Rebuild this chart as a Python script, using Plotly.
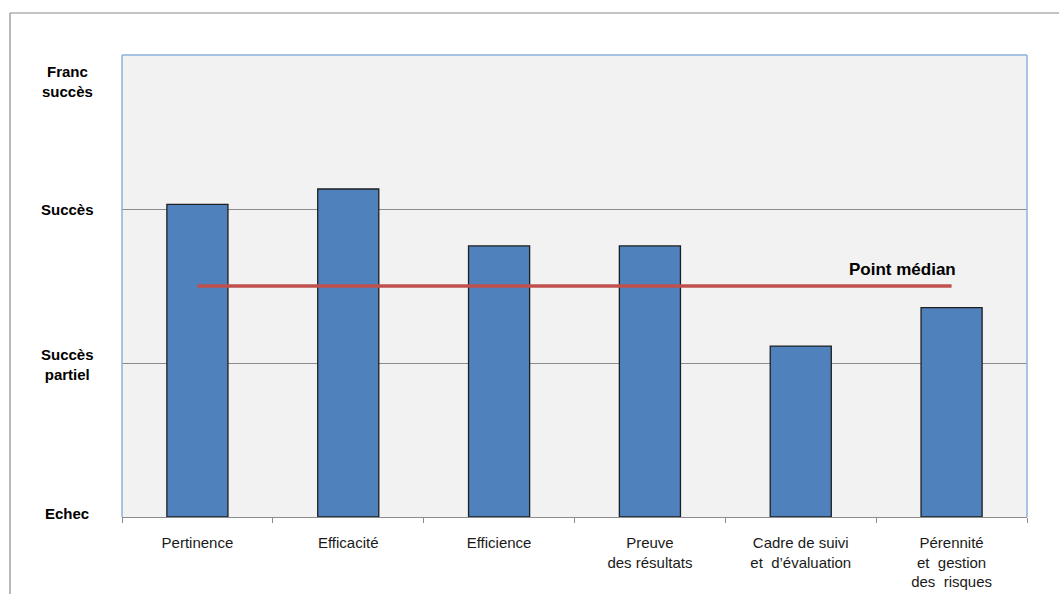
import plotly.graph_objects as go

# Critères d'évaluation et notes (0 = Echec ... 3 = Franc succès)
criteres = [
    "Pertinence",
    "Efficacité",
    "Efficience",
    "Preuve<br>des résultats",
    "Cadre de suivi<br>et  d’évaluation",
    "Pérennité<br>et  gestion<br>des  risques",
]
notes = [2.03, 2.13, 1.76, 1.76, 1.11, 1.36]
mediane = [1.5, 1.5, 1.5, 1.5, 1.5, 1.5]

niveaux = ["Echec", "Succès<br>partiel", "Succès", "Franc<br>succès"]
niveaux_val = [0, 1, 2, 3]

W, H = 1059, 594
ML, MR, MT, MB = 122, 32, 55, 77
PW, PH = W - ML - MR, H - MT - MB

FONT = "Arial, Liberation Sans, sans-serif"

fig = go.Figure()

fig.add_trace(go.Bar(
    x=criteres,
    y=notes,
    marker=dict(color="#4F81BD", line=dict(color="#1F1F1F", width=1.3)),
    hoverinfo="x+y",
))

fig.add_trace(go.Scatter(
    x=criteres,
    y=mediane,
    mode="lines",
    line=dict(color="#C0504D", width=3.5),
    hoverinfo="skip",
))


def px_x(px):
    return (px - ML) / PW


def px_y(px):
    return (H - MB - px) / PH


annotations = []
# libellés de l'échelle, centrés à gauche de la zone de tracé
label_y = {0: 0.02, 1: 0.99, 2: 2.0, 3: 2.825}
for txt, v in zip(niveaux, niveaux_val):
    annotations.append(dict(
        text="<b>" + txt + "</b>", xref="paper", yref="y",
        x=px_x(67), y=label_y[v],
        xanchor="center", yanchor="middle", align="center",
        showarrow=False,
        font=dict(family=FONT, size=15, color="#000000"),
    ))

annotations.append(dict(
    text="<b>Point médian</b>", xref="paper", yref="paper",
    x=px_x(902), y=px_y(269),
    xanchor="center", yanchor="middle",
    showarrow=False,
    font=dict(family=FONT, size=17, color="#000000"),
))

border = dict(color="#8A8A8A", width=1.2)
blue = dict(color="#8DB0DC", width=1.5)
shapes = [
    # cadre extérieur du graphique (haut et gauche)
    dict(type="line", xref="paper", yref="paper",
         x0=px_x(10), x1=px_x(W + 5), y0=px_y(13), y1=px_y(13), line=border),
    dict(type="line", xref="paper", yref="paper",
         x0=px_x(10), x1=px_x(10), y0=px_y(13), y1=px_y(H + 5), line=border),
    # bordure de la zone de tracé (gauche, haut, droite)
    dict(type="line", xref="paper", yref="paper", x0=0, x1=0, y0=0, y1=1, line=blue),
    dict(type="line", xref="paper", yref="paper", x0=0, x1=1, y0=1, y1=1, line=blue),
    dict(type="line", xref="paper", yref="paper", x0=1, x1=1, y0=0, y1=1, line=blue),
]

fig.update_layout(
    width=W, height=H,
    margin=dict(l=ML, r=MR, t=MT, b=MB, pad=0, autoexpand=False),
    paper_bgcolor="#FFFFFF",
    plot_bgcolor="#F2F2F2",
    showlegend=False,
    bargap=0.595,
    font=dict(family=FONT, size=15, color="#1A1A1A"),
    annotations=annotations,
    shapes=shapes,
    xaxis=dict(
        type="category",
        automargin=False,
        showgrid=False,
        showline=True, linecolor="#8C8C8C", linewidth=1.2,
        ticks="outside", tickson="boundaries", ticklen=5,
        tickcolor="#8C8C8C", tickwidth=1,
        tickfont=dict(family=FONT, size=15, color="#1A1A1A"),
        ticklabelstandoff=12,
        fixedrange=True,
    ),
    yaxis=dict(
        range=[0, 3],
        automargin=False,
        tickvals=[1, 2],
        showticklabels=False,
        showgrid=True, gridcolor="#8C8C8C", gridwidth=1,
        zeroline=False,
        showline=False,
        ticks="",
        fixedrange=True,
    ),
)

fig.write_html("out.html", config={"displayModeBar": False})
